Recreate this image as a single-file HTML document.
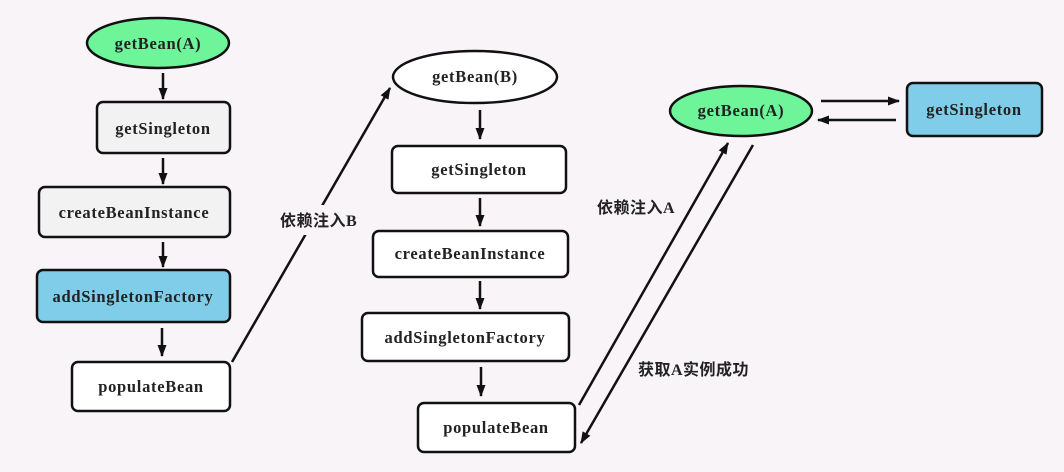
<!DOCTYPE html>
<html><head><meta charset="utf-8"><style>
html,body{margin:0;padding:0;background:#f8f4f8;}
svg{display:block;}
text{font-family:"Liberation Serif","Noto Serif CJK SC",serif;font-weight:bold;font-size:16.5px;letter-spacing:0.7px;fill:#222;}
.cj{font-family:"Liberation Serif","Noto Sans CJK SC",sans-serif;font-size:16px;letter-spacing:0.5px;}
</style></head><body>
<svg width="1064" height="472" viewBox="0 0 1064 472" xmlns="http://www.w3.org/2000/svg">
<defs>
<marker id="a" markerWidth="12" markerHeight="12" refX="11" refY="6" orient="auto" markerUnits="userSpaceOnUse">
<path d="M0,1.5 L12,6 L0,10.5 z" fill="#111"/></marker>
</defs>
<rect width="1064" height="472" fill="#f8f4f8"/>
<g stroke="#111" stroke-width="2.5">
<ellipse cx="158" cy="43" rx="71" ry="25" fill="#6ef59a"/>
<rect x="97" y="102" width="133" height="51" rx="6" fill="#f2f2f2"/>
<rect x="39" y="187" width="191" height="50" rx="6" fill="#f2f2f2"/>
<rect x="37" y="270" width="193" height="52" rx="6" fill="#7fcde9"/>
<rect x="72" y="362" width="158" height="49" rx="6" fill="#fff"/>
<line x1="163" y1="73" x2="163" y2="99" marker-end="url(#a)"/>
<line x1="163" y1="158" x2="163" y2="184" marker-end="url(#a)"/>
<line x1="163" y1="242" x2="163" y2="267" marker-end="url(#a)"/>
<line x1="162" y1="328" x2="162" y2="356" marker-end="url(#a)"/>
<line x1="232" y1="362" x2="390" y2="88" marker-end="url(#a)"/>
<ellipse cx="475" cy="77" rx="82" ry="26" fill="#fff"/>
<rect x="392" y="146" width="174" height="47" rx="6" fill="#fff"/>
<rect x="373" y="231" width="195" height="46" rx="6" fill="#fff"/>
<rect x="362" y="313" width="207" height="48" rx="6" fill="#fff"/>
<rect x="418" y="403" width="157" height="49" rx="6" fill="#fff"/>
<line x1="480" y1="110" x2="480" y2="139" marker-end="url(#a)"/>
<line x1="480" y1="198" x2="480" y2="226" marker-end="url(#a)"/>
<line x1="480" y1="281" x2="480" y2="309" marker-end="url(#a)"/>
<line x1="481" y1="367" x2="481" y2="396" marker-end="url(#a)"/>
<ellipse cx="741" cy="111" rx="71" ry="25" fill="#6ef59a"/>
<rect x="907" y="83" width="135" height="53" rx="6" fill="#7fcde9"/>
<line x1="821" y1="101" x2="899" y2="101" marker-end="url(#a)"/>
<line x1="896" y1="120" x2="818" y2="120" marker-end="url(#a)"/>
<line x1="579" y1="405" x2="728" y2="143" marker-end="url(#a)"/>
<line x1="753" y1="145" x2="581" y2="443" marker-end="url(#a)"/>
</g>
<rect x="272" y="205" width="92" height="30" fill="#f8f4f8"/>
<g text-anchor="middle">
<text x="158" y="49">getBean(A)</text>
<text x="163" y="134">getSingleton</text>
<text x="134" y="218">createBeanInstance</text>
<text x="133" y="302">addSingletonFactory</text>
<text x="151" y="392">populateBean</text>
<text x="475" y="82">getBean(B)</text>
<text x="479" y="175">getSingleton</text>
<text x="470" y="259">createBeanInstance</text>
<text x="465" y="343">addSingletonFactory</text>
<text x="496" y="433">populateBean</text>
<text x="741" y="116">getBean(A)</text>
<text x="974" y="115">getSingleton</text>
</g>
<text class="cj" x="280" y="226">依赖注入B</text>
<text class="cj" x="597" y="213">依赖注入A</text>
<text class="cj" x="638" y="375">获取A实例成功</text>
</svg>
</body></html>
